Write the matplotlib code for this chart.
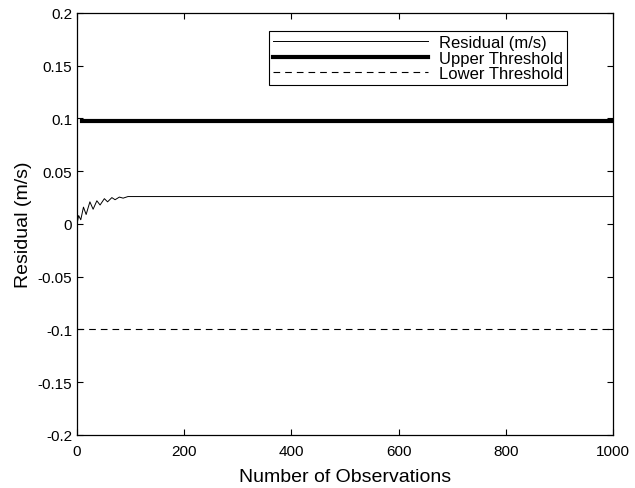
import matplotlib
matplotlib.use('Agg')
import matplotlib.pyplot as plt

plt.rcParams['font.family'] = ['Liberation Sans', 'DejaVu Sans']

# residual trace (obs, m/s); settles at ~0.026
obs = [0, 3, 7, 12, 17, 24, 30, 37, 43, 51, 57, 65, 71, 79, 86, 95, 110, 1000]
residual = [0.000, 0.008, 0.004, 0.016, 0.009, 0.021, 0.014, 0.022, 0.018, 0.024,
            0.021, 0.025, 0.023, 0.0255, 0.0245, 0.026, 0.026, 0.026]
threshold_x = [10, 1000]
upper_threshold = [0.098, 0.098]
lower_threshold = [-0.1, -0.1]

fig = plt.figure(figsize=(6.35, 4.89), dpi=100)
ax = fig.add_axes([0.1213, 0.1084, 0.8441, 0.863])

ax.plot(obs, residual, color='black', lw=0.7, label='Residual (m/s)')
ax.plot(threshold_x, upper_threshold, color='black', lw=3, label='Upper Threshold')
ax.plot([0, 1000], lower_threshold, color='black', lw=0.8, dashes=(6, 4.5), label='Lower Threshold')

ax.set_xlim(0, 1000)
ax.set_ylim(-0.2, 0.2)
ax.set_xticks([0, 200, 400, 600, 800, 1000])
ax.set_yticks([-0.2, -0.15, -0.1, -0.05, 0, 0.05, 0.1, 0.15, 0.2])
ax.set_yticklabels(['-0.2', '-0.15', '-0.1', '-0.05', '0', '0.05', '0.1', '0.15', '0.2'])
ax.tick_params(direction='in', top=True, right=True, length=4, labelsize=11, width=0.8)
ax.tick_params(axis='x', pad=6.5)
ax.tick_params(axis='y', pad=3.6)
for s in ax.spines.values():
    s.set_linewidth(0.9)

ax.set_xlabel('Number of Observations', fontsize=14, labelpad=7.5)
ax.set_ylabel('Residual (m/s)', fontsize=14, labelpad=4)

leg = ax.legend(loc='upper right', bbox_to_anchor=(0.914, 0.957), borderaxespad=0,
                fancybox=False, edgecolor='black', framealpha=1, fontsize=12,
                handlelength=9.3, handletextpad=0.65, labelspacing=0.02,
                borderpad=0.25)
leg.get_frame().set_linewidth(0.8)

fig.savefig('out.png', dpi=100)
